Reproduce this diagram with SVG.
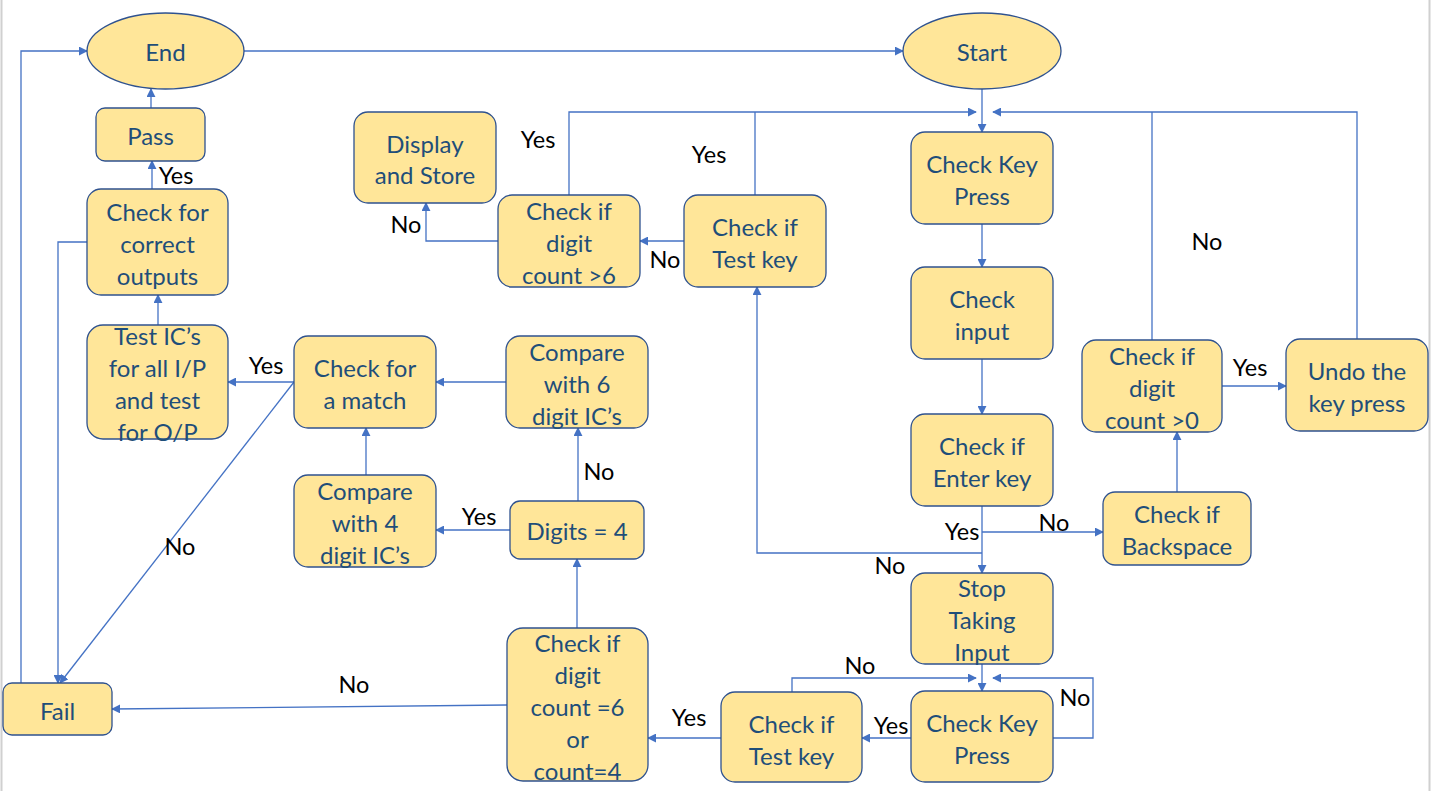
<svg xmlns="http://www.w3.org/2000/svg" width="1432" height="791" viewBox="0 0 1432 791">
<defs>
<style>
.n{fill:#FFE699;stroke:#2F528F;stroke-width:1.3}
.t{font-family:Lato,"Open Sans","Liberation Sans",sans-serif;font-size:24px;fill:#1F4E79;text-anchor:middle;dominant-baseline:central}
.l{font-family:Lato,"Open Sans","Liberation Sans",sans-serif;font-size:23.5px;fill:#000;text-anchor:middle;dominant-baseline:central}
.c{fill:none;stroke:#4472C4;stroke-width:1.3}
.a{marker-end:url(#ah)}
</style>
<marker id="ah" viewBox="0 0 10 10" refX="9" refY="5" markerWidth="9" markerHeight="9" markerUnits="userSpaceOnUse" orient="auto">
<path d="M0,0 L10,5 L0,10 z" fill="#4472C4"/>
</marker>
</defs>
<rect width="1432" height="791" fill="#fff"/>
<line x1="1.5" y1="0" x2="1.5" y2="791" stroke="#d0d0d0" stroke-width="2"/>
<line x1="1429.5" y1="0" x2="1429.5" y2="791" stroke="#d0d0d0" stroke-width="2"/>

<g id="connectors">
<path class="c a" d="M244,51 H903"/>
<path class="c a" d="M21,683 V51 H87"/>
<path class="c a" d="M151,108 V89"/>
<path class="c a" d="M152,189 V161"/>
<path class="c a" d="M87,242 H58 V683"/>
<path class="c a" d="M158,325 V295"/>
<path class="c a" d="M294,382 H228"/>
<path class="c a" d="M294,382 L60,683"/>
<path class="c a" d="M506,382 H436"/>
<path class="c a" d="M366,475 V428"/>
<path class="c a" d="M510,530 H436"/>
<path class="c a" d="M578,501 V428"/>
<path class="c a" d="M577,628 V559"/>
<path class="c a" d="M507,705 L112,709"/>
<path class="c a" d="M721,738 H648"/>
<path class="c a" d="M911,738 H862"/>
<path class="c a" d="M1053,738 H1093 V678 H993"/>
<path class="c a" d="M792,692 V678 H976"/>
<path class="c a" d="M982,664 V691"/>
<path class="c a" d="M982,506 V573"/>
<path class="c a" d="M982,532 H1103"/>
<path class="c a" d="M982,553 H757 V287"/>
<path class="c a" d="M1177,492 V432"/>
<path class="c a" d="M1222,386 H1286"/>
<path class="c a" d="M1357,339 V112 H993"/>
<path class="c" d="M1152,340 V112"/>
<path class="c a" d="M982,89 V132"/>
<path class="c a" d="M569,195 V112 H976"/>
<path class="c" d="M755,195 V112"/>
<path class="c a" d="M684,241 H640"/>
<path class="c a" d="M498,241 H426 V203"/>
<path class="c a" d="M982,224 V267"/>
<path class="c a" d="M982,359 V414"/>
</g>

<g id="labels">
<text class="l" x="176" y="175">Yes</text>
<text class="l" x="266" y="365">Yes</text>
<text class="l" x="180" y="546">No</text>
<text class="l" x="479" y="516">Yes</text>
<text class="l" x="599" y="471">No</text>
<text class="l" x="354" y="684">No</text>
<text class="l" x="689" y="717">Yes</text>
<text class="l" x="891" y="725">Yes</text>
<text class="l" x="1075" y="697">No</text>
<text class="l" x="860" y="665">No</text>
<text class="l" x="962" y="531">Yes</text>
<text class="l" x="1054" y="522">No</text>
<text class="l" x="890" y="565">No</text>
<text class="l" x="1250" y="367">Yes</text>
<text class="l" x="1207" y="241">No</text>
<text class="l" x="538" y="139">Yes</text>
<text class="l" x="709" y="154">Yes</text>
<text class="l" x="665" y="259">No</text>
<text class="l" x="406" y="224">No</text>
</g>

<g id="end"><ellipse class="n" cx="165.5" cy="51" rx="78.5" ry="38"/><text class="t" x="165.5" y="51">End</text></g>
<g id="start"><ellipse class="n" cx="982" cy="51" rx="79" ry="38"/><text class="t" x="982" y="51">Start</text></g>
<g id="pass"><rect class="n" x="96" y="108" width="109" height="53" rx="9"/><text class="t" x="150.5" y="135">Pass</text></g>
<g id="check-outputs"><rect class="n" x="87" y="189" width="141" height="106" rx="14"/><text class="t" x="157.5" y="211">Check for</text><text class="t" x="157.5" y="243">correct</text><text class="t" x="157.5" y="275">outputs</text></g>
<g id="display-store"><rect class="n" x="354" y="112" width="142" height="91" rx="14"/><text class="t" x="425" y="143">Display</text><text class="t" x="425" y="174">and Store</text></g>
<g id="check-count6"><rect class="n" x="498" y="195" width="142" height="92" rx="14"/><text class="t" x="569" y="210">Check if</text><text class="t" x="569" y="242">digit</text><text class="t" x="569" y="274">count &gt;6</text></g>
<g id="check-testkey-top"><rect class="n" x="684" y="195" width="142" height="92" rx="14"/><text class="t" x="755" y="226">Check if</text><text class="t" x="755" y="258">Test key</text></g>
<g id="check-keypress-top"><rect class="n" x="911" y="132" width="142" height="92" rx="14"/><text class="t" x="982" y="163">Check Key</text><text class="t" x="982" y="195">Press</text></g>
<g id="check-input"><rect class="n" x="911" y="267" width="142" height="92" rx="14"/><text class="t" x="982" y="298">Check</text><text class="t" x="982" y="330">input</text></g>
<g id="check-enter"><rect class="n" x="911" y="414" width="142" height="92" rx="14"/><text class="t" x="982" y="445">Check if</text><text class="t" x="982" y="477">Enter key</text></g>
<g id="stop-input"><rect class="n" x="911" y="573" width="142" height="91" rx="14"/><text class="t" x="982" y="587">Stop</text><text class="t" x="982" y="619">Taking</text><text class="t" x="982" y="651">Input</text></g>
<g id="check-keypress-bottom"><rect class="n" x="911" y="691" width="142" height="91" rx="14"/><text class="t" x="982" y="722">Check Key</text><text class="t" x="982" y="754">Press</text></g>
<g id="check-testkey-bottom"><rect class="n" x="721" y="692" width="141" height="90" rx="14"/><text class="t" x="791.5" y="723">Check if</text><text class="t" x="791.5" y="755">Test key</text></g>
<g id="check-count64"><rect class="n" x="507" y="628" width="141" height="153" rx="16"/><text class="t" x="577.5" y="642">Check if</text><text class="t" x="577.5" y="674">digit</text><text class="t" x="577.5" y="706">count =6</text><text class="t" x="577.5" y="738">or</text><text class="t" x="577.5" y="770">count=4</text></g>
<g id="fail"><rect class="n" x="3" y="683" width="109" height="52" rx="9"/><text class="t" x="57.5" y="710">Fail</text></g>
<g id="test-ics"><rect class="n" x="87" y="325" width="141" height="114" rx="16"/><text class="t" x="157.5" y="335">Test IC’s</text><text class="t" x="157.5" y="367">for all I/P</text><text class="t" x="157.5" y="399">and test</text><text class="t" x="157.5" y="431">for O/P</text></g>
<g id="check-match"><rect class="n" x="294" y="336" width="142" height="92" rx="14"/><text class="t" x="365" y="367">Check for</text><text class="t" x="365" y="399">a match</text></g>
<g id="compare6"><rect class="n" x="506" y="336" width="142" height="92" rx="14"/><text class="t" x="577" y="351">Compare</text><text class="t" x="577" y="383">with 6</text><text class="t" x="577" y="415">digit IC’s</text></g>
<g id="compare4"><rect class="n" x="294" y="475" width="142" height="92" rx="14"/><text class="t" x="365" y="490">Compare</text><text class="t" x="365" y="522">with 4</text><text class="t" x="365" y="554">digit IC’s</text></g>
<g id="digits4"><rect class="n" x="510" y="501" width="134" height="58" rx="10"/><text class="t" x="577" y="530">Digits = 4</text></g>
<g id="check-count0"><rect class="n" x="1082" y="340" width="140" height="92" rx="14"/><text class="t" x="1152" y="355">Check if</text><text class="t" x="1152" y="387">digit</text><text class="t" x="1152" y="419">count &gt;0</text></g>
<g id="undo"><rect class="n" x="1286" y="339" width="142" height="92" rx="14"/><text class="t" x="1357" y="370">Undo the</text><text class="t" x="1357" y="402">key press</text></g>
<g id="check-backspace"><rect class="n" x="1103" y="492" width="148" height="73" rx="12"/><text class="t" x="1177" y="513">Check if</text><text class="t" x="1177" y="545">Backspace</text></g>
</svg>
